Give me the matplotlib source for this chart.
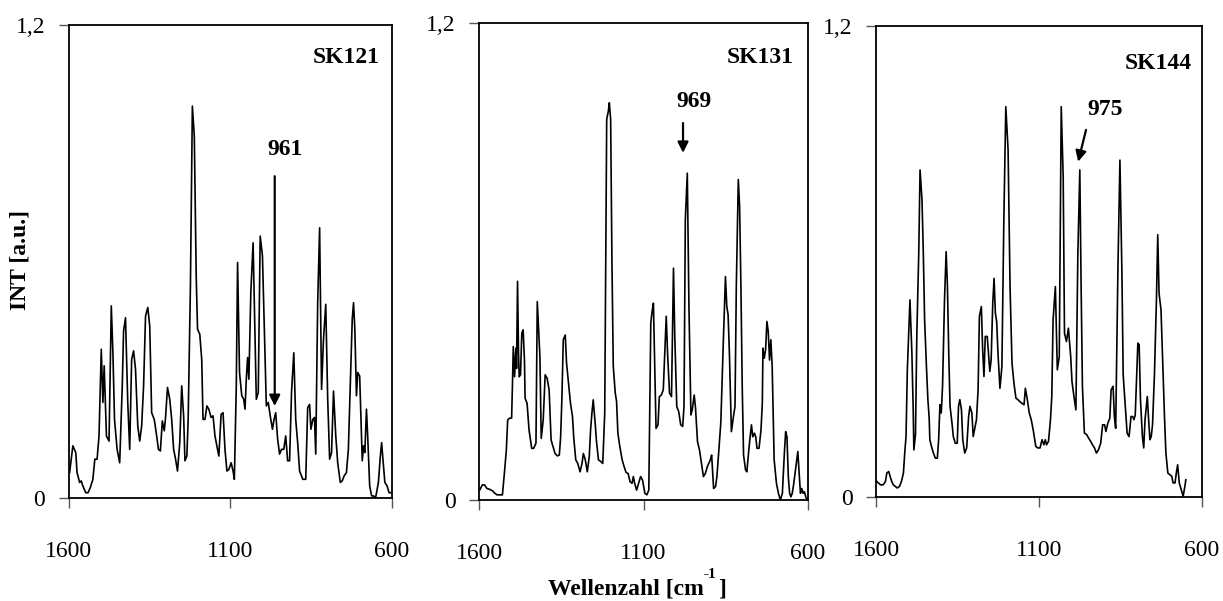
import numpy as np
import matplotlib
matplotlib.use("Agg")
import matplotlib.pyplot as plt

plt.rcParams['font.family'] = ['Liberation Serif', 'DejaVu Serif']

# SK121 spectrum (wavenumber, intensity)
wn_121 = [1598, 1588, 1579, 1575, 1567, 1562, 1557, 1548, 1541, 1534, 1526, 1520, 1513, 1507, 1500, 1495,
          1491, 1484, 1476, 1469, 1464, 1459, 1451, 1443, 1435, 1431, 1425, 1418, 1412, 1406, 1400, 1394,
          1387, 1381, 1375, 1369, 1363, 1356, 1350, 1344, 1336, 1330, 1323, 1317, 1311, 1305, 1301, 1295,
          1288, 1282, 1276, 1270, 1264, 1257, 1251, 1245, 1241, 1235, 1231, 1224, 1218, 1212, 1206, 1202,
          1195, 1189, 1185, 1179, 1173, 1167, 1160, 1154, 1148, 1142, 1136, 1129, 1123, 1117, 1111, 1105,
          1098, 1092, 1088, 1082, 1078, 1072, 1065, 1059, 1055, 1051, 1047, 1043, 1037, 1030, 1024, 1020,
          1014, 1008, 1001, 995, 989, 983, 977, 970, 966, 960, 954, 948, 942, 935, 929, 923,
          917, 911, 904, 898, 892, 886, 876, 867, 861, 855, 851, 845, 840, 836, 830, 824,
          818, 812, 805, 799, 793, 787, 781, 774, 768, 760, 754, 748, 741, 735, 729, 723,
          719, 715, 710, 706, 700, 696, 692, 688, 684, 679, 675, 669, 663, 657, 651, 642,
          636, 632, 628, 622, 615, 609, 603]
int_121 = [0.065, 0.133, 0.116, 0.065, 0.040, 0.044, 0.031, 0.014, 0.014, 0.027, 0.048, 0.099, 0.099, 0.158, 0.378, 0.243,
           0.336, 0.158, 0.145, 0.488, 0.369, 0.200, 0.124, 0.090, 0.285, 0.424, 0.458, 0.243, 0.124, 0.352, 0.374, 0.327,
           0.183, 0.145, 0.183, 0.285, 0.462, 0.484, 0.437, 0.217, 0.200, 0.167, 0.124, 0.120, 0.196, 0.171, 0.205, 0.281,
           0.251, 0.200, 0.124, 0.099, 0.069, 0.141, 0.285, 0.209, 0.095, 0.107, 0.200, 0.538, 0.995, 0.919, 0.560, 0.429,
           0.416, 0.352, 0.200, 0.200, 0.234, 0.226, 0.205, 0.209, 0.158, 0.133, 0.107, 0.213, 0.217, 0.124, 0.069, 0.073,
           0.090, 0.069, 0.048, 0.285, 0.598, 0.319, 0.260, 0.251, 0.226, 0.302, 0.357, 0.302, 0.522, 0.648, 0.403, 0.251,
           0.268, 0.665, 0.615, 0.420, 0.234, 0.243, 0.209, 0.175, 0.196, 0.217, 0.150, 0.112, 0.124, 0.124, 0.158, 0.095,
           0.095, 0.268, 0.369, 0.200, 0.141, 0.069, 0.048, 0.048, 0.230, 0.238, 0.175, 0.200, 0.205, 0.112, 0.496, 0.686,
           0.276, 0.403, 0.492, 0.251, 0.099, 0.116, 0.272, 0.158, 0.090, 0.040, 0.044, 0.057, 0.065, 0.124, 0.285, 0.454,
           0.496, 0.429, 0.260, 0.319, 0.310, 0.200, 0.095, 0.133, 0.116, 0.226, 0.154, 0.031, 0.006, 0.006, 0.000, 0.040,
           0.107, 0.141, 0.099, 0.040, 0.031, 0.014, 0.014]

# SK131 spectrum
wn_131 = [1598, 1590, 1583, 1576, 1568, 1559, 1552, 1545, 1537, 1529, 1523, 1517, 1513, 1507, 1501, 1498,
          1496, 1492, 1488, 1486, 1483, 1480, 1478, 1474, 1470, 1466, 1462, 1460, 1454, 1448, 1440, 1434,
          1427, 1423, 1415, 1411, 1405, 1399, 1393, 1387, 1381, 1375, 1369, 1362, 1356, 1352, 1348, 1344,
          1338, 1334, 1328, 1322, 1316, 1312, 1306, 1300, 1293, 1287, 1283, 1277, 1271, 1265, 1261, 1257,
          1253, 1247, 1243, 1237, 1230, 1224, 1218, 1212, 1207, 1204, 1200, 1196, 1192, 1186, 1182, 1178,
          1172, 1165, 1159, 1153, 1147, 1141, 1135, 1131, 1127, 1121, 1115, 1109, 1103, 1096, 1090, 1084,
          1078, 1074, 1070, 1066, 1062, 1056, 1052, 1046, 1040, 1031, 1027, 1021, 1015, 1009, 1005, 999,
          993, 987, 981, 977, 973, 967, 962, 956, 952, 946, 942, 936, 930, 924, 918, 912,
          906, 897, 893, 887, 881, 877, 871, 865, 857, 851, 847, 843, 839, 833, 826, 822,
          818, 812, 808, 804, 800, 796, 790, 786, 780, 776, 772, 768, 763, 759, 755, 749,
          743, 739, 737, 733, 729, 725, 721, 717, 713, 709, 703, 696, 690, 684, 678, 672,
          668, 664, 660, 656, 652, 648, 644, 638, 631, 627, 623, 619, 615, 611, 607, 603]
int_131 = [0.025, 0.038, 0.038, 0.029, 0.027, 0.023, 0.017, 0.013, 0.013, 0.013, 0.067, 0.126, 0.201, 0.206, 0.206, 0.306,
           0.386, 0.310, 0.382, 0.331, 0.550, 0.369, 0.310, 0.315, 0.420, 0.428, 0.352, 0.256, 0.243, 0.176, 0.130, 0.130,
           0.143, 0.499, 0.361, 0.155, 0.201, 0.315, 0.306, 0.277, 0.151, 0.134, 0.117, 0.111, 0.113, 0.159, 0.260, 0.403,
           0.415, 0.344, 0.294, 0.243, 0.210, 0.155, 0.101, 0.092, 0.071, 0.092, 0.117, 0.101, 0.071, 0.109, 0.176, 0.218,
           0.252, 0.193, 0.147, 0.101, 0.097, 0.092, 0.218, 0.957, 0.978, 0.999, 0.957, 0.596, 0.336, 0.269, 0.248, 0.168,
           0.134, 0.101, 0.084, 0.069, 0.067, 0.046, 0.042, 0.059, 0.042, 0.025, 0.042, 0.059, 0.050, 0.017, 0.013, 0.025,
           0.445, 0.474, 0.495, 0.331, 0.180, 0.189, 0.260, 0.264, 0.277, 0.462, 0.369, 0.269, 0.260, 0.583, 0.411, 0.235,
           0.222, 0.189, 0.185, 0.235, 0.705, 0.822, 0.487, 0.214, 0.227, 0.264, 0.231, 0.147, 0.126, 0.092, 0.059, 0.067,
           0.084, 0.101, 0.113, 0.029, 0.034, 0.059, 0.126, 0.197, 0.411, 0.562, 0.487, 0.466, 0.369, 0.172, 0.214, 0.235,
           0.537, 0.806, 0.738, 0.537, 0.285, 0.113, 0.076, 0.071, 0.126, 0.159, 0.189, 0.159, 0.168, 0.159, 0.130, 0.130,
           0.176, 0.243, 0.382, 0.357, 0.378, 0.449, 0.424, 0.352, 0.403, 0.336, 0.101, 0.042, 0.017, 0.000, 0.017, 0.117,
           0.172, 0.159, 0.059, 0.017, 0.008, 0.017, 0.038, 0.076, 0.122, 0.067, 0.017, 0.029, 0.017, 0.021, 0.008, 0.000]

# SK144 spectrum
wn_144 = [1598, 1593, 1586, 1578, 1571, 1567, 1561, 1557, 1552, 1547, 1541, 1535, 1528, 1522, 1516, 1512,
          1508, 1504, 1496, 1490, 1486, 1484, 1479, 1475, 1469, 1465, 1459, 1455, 1451, 1445, 1441, 1437,
          1435, 1430, 1424, 1418, 1412, 1408, 1404, 1400, 1396, 1390, 1385, 1381, 1377, 1373, 1367, 1363,
          1357, 1351, 1347, 1343, 1338, 1334, 1328, 1322, 1316, 1312, 1306, 1302, 1298, 1292, 1287, 1283,
          1277, 1273, 1269, 1265, 1259, 1255, 1251, 1247, 1242, 1238, 1234, 1230, 1226, 1220, 1214, 1208,
          1202, 1195, 1189, 1183, 1177, 1171, 1165, 1159, 1153, 1146, 1142, 1136, 1130, 1124, 1118, 1110,
          1104, 1097, 1091, 1085, 1081, 1077, 1071, 1065, 1061, 1057, 1050, 1044, 1038, 1032, 1026, 1022,
          1016, 1010, 1003, 999, 993, 987, 981, 975, 971, 967, 961, 954, 948, 942, 936, 930,
          924, 918, 911, 905, 899, 895, 889, 883, 879, 873, 869, 865, 858, 852, 846, 842,
          836, 830, 824, 818, 813, 809, 805, 801, 797, 793, 789, 783, 779, 775, 768, 764,
          760, 756, 752, 746, 740, 736, 732, 726, 721, 715, 711, 705, 699, 693, 689, 683,
          679, 675, 670, 664, 658, 652, 650]
int_144 = [0.040, 0.036, 0.031, 0.031, 0.040, 0.061, 0.065, 0.053, 0.040, 0.031, 0.027, 0.023, 0.027, 0.040, 0.061, 0.112,
           0.154, 0.324, 0.502, 0.366, 0.222, 0.120, 0.159, 0.409, 0.621, 0.833, 0.757, 0.621, 0.451, 0.324, 0.248, 0.201,
           0.146, 0.129, 0.112, 0.099, 0.099, 0.146, 0.235, 0.214, 0.282, 0.502, 0.625, 0.536, 0.366, 0.231, 0.188, 0.154,
           0.137, 0.137, 0.231, 0.248, 0.222, 0.146, 0.112, 0.125, 0.205, 0.231, 0.214, 0.154, 0.171, 0.197, 0.273, 0.460,
           0.485, 0.375, 0.307, 0.409, 0.409, 0.366, 0.320, 0.349, 0.494, 0.557, 0.468, 0.447, 0.366, 0.277, 0.332, 0.706,
           0.994, 0.884, 0.536, 0.341, 0.290, 0.252, 0.248, 0.243, 0.239, 0.235, 0.277, 0.248, 0.214, 0.197, 0.171, 0.129,
           0.125, 0.125, 0.146, 0.133, 0.146, 0.133, 0.142, 0.197, 0.256, 0.451, 0.536, 0.324, 0.358, 0.994, 0.815, 0.417,
           0.396, 0.430, 0.358, 0.294, 0.256, 0.222, 0.621, 0.833, 0.536, 0.282, 0.163, 0.159, 0.150, 0.142, 0.133, 0.125,
           0.112, 0.120, 0.137, 0.184, 0.184, 0.167, 0.188, 0.201, 0.273, 0.282, 0.205, 0.175, 0.587, 0.858, 0.578, 0.311,
           0.239, 0.163, 0.154, 0.205, 0.205, 0.197, 0.209, 0.299, 0.392, 0.388, 0.248, 0.154, 0.125, 0.197, 0.256, 0.197,
           0.146, 0.154, 0.184, 0.315, 0.502, 0.668, 0.519, 0.477, 0.349, 0.197, 0.112, 0.061, 0.057, 0.053, 0.036, 0.036,
           0.061, 0.082, 0.036, 0.019, 0.002, 0.031, 0.044]

names = ["SK121", "SK131", "SK144"]
wns = [wn_121, wn_131, wn_144]
ints = [int_121, int_131, int_144]

# marked band per sample: label, label pos, arrow tail, arrow tip
peak_labels = ["961", "969", "975"]
label_xy = [(932, 0.885), (948, 1.003), (898, 0.986)]
arrow_tail = [(963, 0.817), (980, 0.948), (956, 0.935)]
arrow_tip = [(963, 0.234), (980, 0.873), (980, 0.854)]

# axes boxes in figure fraction
boxes = [[0.0564, 0.171, 0.2641, 0.787],
         [0.3917, 0.168, 0.2690, 0.794],
         [0.7163, 0.173, 0.2666, 0.784]]
name_pos = [(0.962, 0.931), (0.956, 0.927), (0.969, 0.92)]

fig = plt.figure(figsize=(12.23, 6.01), dpi=100)

for i in range(3):
    ax = fig.add_axes(boxes[i])
    ax.plot(wns[i], ints[i], color='black', lw=1.2)
    ax.set_xlim(1600, 600)
    ax.set_ylim(0, 1.2)
    ax.set_xticks([1600, 1100, 600])
    ax.set_xticklabels(["1600", "1100", "600"])
    ax.set_yticks([0, 1.2])
    ax.set_yticklabels(["0", "1,2"])
    ax.tick_params(direction='out', length=7, width=1, color='#555555',
                   labelsize=17)
    ax.tick_params(axis='x', pad=24)
    ax.tick_params(axis='y', pad=10)
    for s in ax.spines.values():
        s.set_linewidth(1.3)
    ax.text(name_pos[i][0], name_pos[i][1], names[i], transform=ax.transAxes,
            ha='right', va='center', fontsize=17, fontweight='bold')
    ax.text(label_xy[i][0], label_xy[i][1], peak_labels[i], ha='center', va='center',
            fontsize=17, fontweight='bold')
    ax.annotate('', xy=arrow_tip[i], xytext=arrow_tail[i],
                arrowprops=dict(arrowstyle='-|>', color='black', lw=1.6,
                                mutation_scale=16, shrinkA=0, shrinkB=0))

fig.text(0.0165, 0.567, "INT [a.u.]", rotation=90, ha='center', va='center',
         fontsize=17, fontweight='bold')

# x label with a plain hyphen superscript, built from three pieces
fig.canvas.draw()
rend = fig.canvas.get_renderer()
inv = fig.transFigure.inverted()
t1 = fig.text(0.448, 0.01, "Wellenzahl [cm", ha='left', va='baseline',
              fontsize=17, fontweight='bold')
x1 = inv.transform(t1.get_window_extent(rend))[1][0]
t2 = fig.text(x1, 0.038, "-1", ha='left', va='baseline', fontsize=11, fontweight='bold')
x2 = inv.transform(t2.get_window_extent(rend))[1][0]
fig.text(x2 + 0.001, 0.01, "]", ha='left', va='baseline', fontsize=17, fontweight='bold')

fig.savefig("out.png", dpi=100)
